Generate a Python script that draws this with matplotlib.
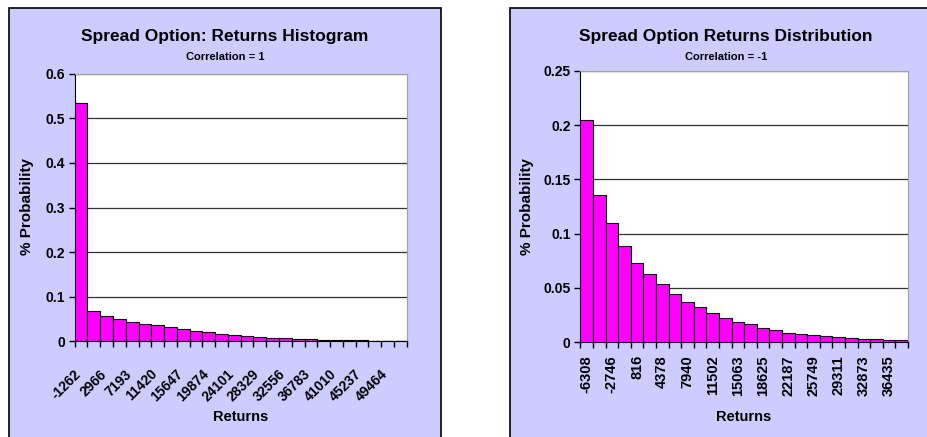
import numpy as np
import matplotlib
matplotlib.use("Agg")
import matplotlib.pyplot as plt
from matplotlib.patches import Rectangle

plt.rcParams['font.family'] = ['Liberation Sans', 'DejaVu Sans']

# left chart: correlation = 1
left_labels = ["-1262", "2966", "7193", "11420", "15647", "19874", "24101",
               "28329", "32556", "36783", "41010", "45237", "49464"]
left_probs = [0.535, 0.067, 0.056, 0.049, 0.043, 0.038, 0.036, 0.032, 0.027,
              0.023, 0.020, 0.016, 0.014, 0.011, 0.009, 0.007, 0.0065, 0.0045,
              0.0045, 0.002, 0.002, 0.002, 0.002, 0.0, 0.0, 0.0]
left_yticks = [0, 0.1, 0.2, 0.3, 0.4, 0.5, 0.6]

# right chart: correlation = -1
right_labels = ["-6308", "-2746", "816", "4378", "7940", "11502", "15063",
                "18625", "22187", "25749", "29311", "32873", "36435"]
right_probs = [0.205, 0.136, 0.110, 0.0886, 0.0726, 0.0624, 0.0532, 0.044,
               0.0372, 0.032, 0.0268, 0.0221, 0.0188, 0.0166, 0.0129, 0.0108,
               0.0086, 0.0074, 0.0062, 0.0052, 0.0043, 0.0034, 0.0025, 0.0025,
               0.0015, 0.0015]
right_yticks = [0, 0.05, 0.1, 0.15, 0.2, 0.25]

PANEL = "#ccccff"
BAR = "#ff00ff"

fig = plt.figure(figsize=(9.28, 4.37), dpi=100)
W, H = 928.0, 437.0

# lavender chart panels with black border (cut by image edges)
for px, pw in [(9, 432), (510, 440)]:
    fig.add_artist(Rectangle((px / W, -0.05), pw / W, 1.05 - 8 / H,
                             transform=fig.transFigure, facecolor=PANEL,
                             edgecolor="black", linewidth=1.2, zorder=-5))


def draw(rect, probs, labels, yticks, title, sub, rot, panel_cx, ylab_x):
    ax = fig.add_axes(rect)
    ax.set_zorder(2)
    n = len(probs)
    x = np.arange(n)
    ax.bar(x, probs, width=1.0, align="edge", color=BAR,
           edgecolor="black", linewidth=0.8, zorder=3)
    ax.set_xlim(0, n)
    ax.set_ylim(0, yticks[-1])
    ax.set_yticks(yticks)
    ax.set_yticklabels(["%g" % t for t in yticks], fontsize=10,
                       fontweight="bold")
    ax.yaxis.grid(True, color="#333333", linewidth=0.9, zorder=1)
    ax.set_axisbelow(True)
    ax.set_xticks(np.arange(n + 1))
    ax.set_xticklabels([])
    if rot == 45:
        ax.set_xticks(np.arange(len(labels)) * 2 + 0.3, minor=True)
        ax.set_xticklabels(labels, minor=True, rotation=45, ha="right",
                           va="center", rotation_mode="anchor",
                           fontsize=10, fontweight="bold")
        ax.tick_params(axis="x", which="minor", length=0, pad=22)
    else:
        ax.set_xticks(np.arange(len(labels)) * 2 + 0.5, minor=True)
        ax.set_xticklabels(labels, minor=True, rotation=90, ha="center",
                           va="top", fontsize=10.5, fontweight="bold")
        ax.tick_params(axis="x", which="minor", length=0, pad=9.5)
    ax.tick_params(axis="x", which="major", length=4, width=1,
                   direction="out")
    ax.tick_params(axis="y", length=4, width=1, direction="out", pad=3)
    ax.spines["left"].set_color("black")
    ax.spines["bottom"].set_color("black")
    ax.spines["top"].set_color("#a0a0a0")
    ax.spines["right"].set_color("#a0a0a0")
    fig.text(panel_cx / W, 1 - 36 / H, title, ha="center", va="center",
             fontsize=12.5, fontweight="bold")
    fig.text(panel_cx / W, 1 - 57 / H, sub, ha="center", va="center",
             fontsize=8, fontweight="bold")
    fig.text(ylab_x / W, 1 - 207 / H, "% Probability", rotation=90,
             ha="center", va="center", fontsize=11, fontweight="bold")
    return ax


ax1 = draw([74.7 / W, 1 - 341.3 / H, 332 / W, 267.6 / H], left_probs,
           left_labels, left_yticks, "Spread Option: Returns Histogram",
           "Correlation = 1", 45, 225, 26.7)
fig.text(240.7 / W, 1 - 417 / H, "Returns", ha="center", va="center",
         fontsize=10.5, fontweight="bold")

ax2 = draw([580.3 / W, 1 - 342 / H, 327.7 / W, 271 / H], right_probs,
           right_labels, right_yticks, "Spread Option Returns Distribution",
           "Correlation = -1", 90, 726, 526.7)
fig.text(744 / W, 1 - 417 / H, "Returns", ha="center", va="center",
         fontsize=10.5, fontweight="bold")

fig.savefig("out.png", dpi=100)
